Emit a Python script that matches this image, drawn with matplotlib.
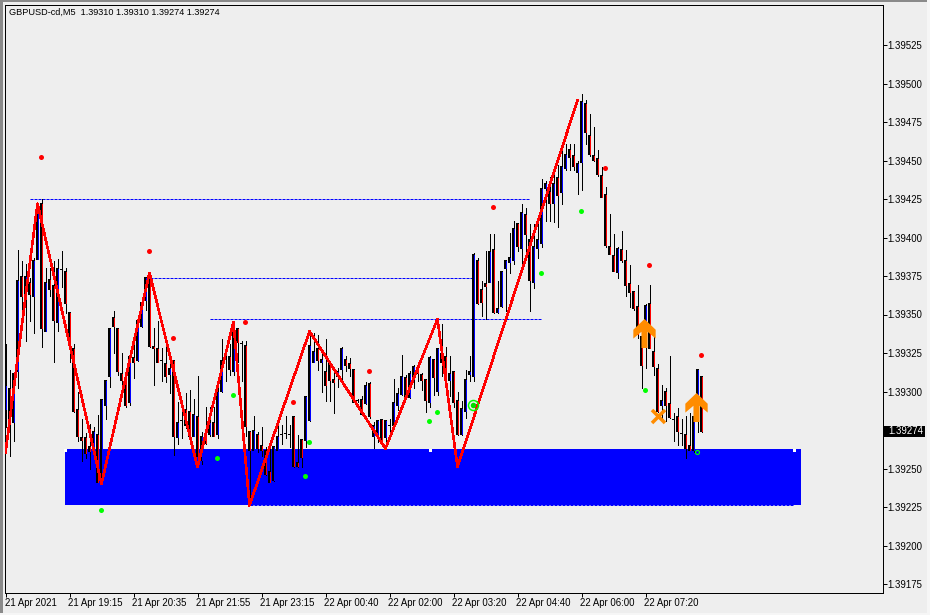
#!/usr/bin/env python
import matplotlib
matplotlib.use("Agg")
import matplotlib.pyplot as plt
from matplotlib.path import Path
from matplotlib.patches import Rectangle
from matplotlib.transforms import ScaledTranslation
import numpy as np

BASE = 1.39  # all values below are points above this price
BG = "#EEEEEE"

opens = [288,302,280,313,375,363,371,362,386,422, 339,373,369,345,379,378,351,328,288,270,
         270,264,262,272,241,291,310,348,341,312, 309,293,322,320,342,359,374,329,328,320,
         318,311,320,270,281,288,287,271,284,255, 272,272,280,272,300,321,323,313,341,331,
         330,274,262,272,265,262,248,242,262,272, 273,272,284,254,269,268,281,319,328,319,
         313,318,308,310,314,321,318,314,294,295, 292,305,271,271,282,270,278,278,291,298,
         309,296,310,315,311,308,293,321,300,325, 323,307,313,294,272,287,311,310,385,366,
         370,371,392,351,355,380,384,385,409,393, 415,399,371,393,396,432,430,422,439,429,
         445,457,453,442,449,487,466,453,451,440, 428,394,388,377,392,385,370,365,355,336,
         335,357,326,315,291,300,292,282,284,273, 272,265,262,283,310]
closes = [304,280,312,372,362,375,363,385,417,341, 371,366,346,380,379,357,330,287,271,268,
          260,261,274,241,295,307,341,342,313,307, 291,323,319,346,358,374,329,328,319,320,
          310,315,271,280,281,278,271,285,258,271, 266,280,271,300,320,321,314,342,332,331,
          277,262,275,263,262,246,241,264,271,272, 273,272,251,251,257,297,330,326,320,321,
          304,307,306,313,328,317,315,293,294,285, 304,284,278,281,267,281,278,293,299,310,
          297,312,316,312,307,294,322,309,328,319, 308,312,293,272,289,308,313,389,357,358,
          368,391,351,354,378,385,387,406,394,416, 402,372,394,399,432,435,422,435,427,446,
          454,452,446,448,488,468,454,450,441,426, 395,389,378,393,385,369,364,354,337,317,
          356,328,316,287,294,291,283,282,274,273, 263,262,284,314,274]
highs = [331,314,312,392,385,383,374,387,422,425, 380,380,385,386,391,380,351,331,300,282,
         273,279,277,285,295,307,341,352,341,325, 313,323,333,346,360,374,376,341,346,328,
         329,325,320,293,290,299,301,295,310,274, 290,290,290,302,334,329,331,342,341,333,
         333,274,284,274,277,264,263,264,278,278, 284,278,284,272,269,297,339,338,337,327,
         334,318,312,315,329,323,322,314,295,297, 306,306,280,281,282,281,282,308,302,324,
         311,313,317,316,312,308,323,321,328,344, 329,323,313,300,294,314,323,390,387,372,
         391,402,402,372,378,385,403,411,409,422, 419,409,409,409,438,437,439,441,447,456,
         461,461,461,450,493,489,480,472,457,446, 433,415,402,394,404,392,382,365,369,338,
         357,369,340,318,304,302,323,286,289,282, 284,286,287,314,310]
lows = [277,258,268,302,352,333,346,338,386,329, 339,362,319,339,368,351,319,287,268,255,
        257,250,258,241,240,282,303,325,311,305, 290,291,309,320,342,353,329,304,319,307,
        306,299,259,266,270,276,267,271,253,253, 266,271,271,270,300,307,311,311,319,307,
        271,229,262,261,258,246,241,242,262,266, 270,264,251,251,251,264,281,319,314,300,
        294,294,286,303,307,313,310,293,293,285, 292,283,263,267,267,263,272,277,288,298,
        295,296,302,307,301,287,290,298,298,310, 307,297,290,272,272,283,307,307,357,349,
        347,371,351,351,355,352,377,383,391,381, 390,352,367,387,394,411,411,410,407,422,
        444,444,444,428,431,461,453,450,440,426, 394,389,378,374,384,362,355,353,335,302,
        315,328,311,287,283,281,283,268,265,265, 257,262,261,274,274]

# zigzag turning points
zz_bars = [0, 8, 24, 36, 48, 57, 61, 76, 95, 108, 113, 143]
zz_pts = [260, 422, 240, 377, 251, 345, 226, 339, 263, 347, 251, 489]

# indicator dots
red_bars = [9, 36, 42, 60, 72, 91, 122, 150, 161, 174]
red_pts = [452, 391, 335, 345, 293, 313, 420, 445, 382, 324]
green_bars = [24, 57, 53, 76, 75, 106, 108, 134, 144, 160]
green_pts = [223, 298, 257, 267, 245, 281, 287, 377, 417, 301]

# dotted levels: start bar, end bar, level
lvl_start = [6, 36, 51, 61]
lvl_end = [131, 117, 134, 197]
lvl_pts = [424.7, 374, 347.4, 226]

# supply box
box_bars = [14.875, 198.875]
box_pts = [226.5, 262.7]

# arrows
arrow_bars = [159.5, 172.5]
arrow_pts = [338, 290]
cross_bar = 163
cross_pt = 284

ytick_pts = [175, 200, 225, 250, 275, 300, 325, 350, 375, 400, 425, 450, 475, 500, 525]
xtick_bars = [0, 16, 32, 48, 64, 80, 96, 112, 128, 144, 160]
xtick_labels = ["21 Apr 2021", "21 Apr 19:15", "21 Apr 20:35", "21 Apr 21:55",
                "21 Apr 23:15", "22 Apr 00:40", "22 Apr 02:00", "22 Apr 03:20",
                "22 Apr 04:40", "22 Apr 06:00", "22 Apr 07:20"]
last_price = 274


def price(p):
    return BASE + np.asarray(p, dtype=float) / 1e5


W, H = 930, 615
px = 72.0 / 100  # one pixel in points
FS = 6.9
one_px_price = 1e-5 / 1.54

plt.rcParams["font.family"] = ["Liberation Sans", "DejaVu Sans"]
fig = plt.figure(figsize=(W / 100, H / 100), dpi=100, facecolor=BG)
ax = fig.add_axes([4.5 / W, 1 - 592.5 / H, 878 / W, 588 / H], facecolor=BG)

# window edge
fig.add_artist(Rectangle((0, 0), 2.5 / W, 1, transform=fig.transFigure, color="#8A8A8A", lw=0))
fig.add_artist(Rectangle((0, 1 - 1.5 / H), 1, 1.5 / H, transform=fig.transFigure, color="#8A8A8A", lw=0))
fig.add_artist(Rectangle((1 - 3 / W, 0), 3 / W, 1, transform=fig.transFigure, color="#F6F6F6", lw=0))
fig.add_artist(Rectangle((0, 0), 1, 2 / H, transform=fig.transFigure, color="#F6F6F6", lw=0))

# 1 px = 0.25 bar, 1.54 px = 1 point
ax.set_xlim((4.5 - 5.5) / 4, (882.5 - 5.5) / 4)
ax.set_ylim(price(300 + (391.5 - 592.5) / 1.54), price(300 + (391.5 - 4.5) / 1.54))

ax.add_patch(Rectangle((box_bars[0], price(box_pts[0])), box_bars[1] - box_bars[0],
                       price(box_pts[1]) - price(box_pts[0]), color="#0000FF", lw=0, zorder=1))
ax.plot([14.9, 106.1, 197.1], price([262, 262, 262]), ls="", marker="s", ms=3 * px, mfc="white",
        mew=0, zorder=1.5)

for s, e, v in zip(lvl_start, lvl_end, lvl_pts):
    ax.plot([s, e], price([v, v]), color="#0000FF", lw=px, ls=(0, (3, 1)), zorder=2)

bars = np.arange(len(opens))
o = price(opens)
c = price(closes)
top = np.maximum(o, c)
bot = np.minimum(o, c)
ax.vlines(bars, price(lows), price(highs), color="black", lw=px, antialiased=False, zorder=3)
# body: black 3 px block with a 1 px coloured core
ax.bar(bars, top - bot + one_px_price, bottom=bot - one_px_price / 2, width=0.75, color="black",
       lw=0, antialiased=False, zorder=3.5)
colors = ["#0000FF" if b > a else "#FF0000" for a, b in zip(opens, closes)]
has_core = top - bot > one_px_price
ax.vlines(bars[has_core], bot[has_core] + one_px_price / 2, top[has_core] - one_px_price / 2,
          colors=[k for k, f in zip(colors, has_core) if f], lw=px, antialiased=False, zorder=3.6)

ax.plot(zz_bars, price(zz_pts), color="#FF0000", lw=1.6 * px, antialiased=False, zorder=4)

ax.plot(np.array(red_bars) - 0.25, price(red_pts), ls="", marker="o", ms=5 * px, mfc="#FF0000", mew=0, zorder=5)
ax.plot(np.array(green_bars) - 0.25, price(green_pts), ls="", marker="o", ms=5 * px, mfc="#00FF00", mew=0, zorder=5)
# ringed signals
ax.plot([172.75], price([261]), ls="", marker="o", ms=4 * px, mfc="#0000FF", mec="#00FF00", mew=1.2 * px, zorder=5)
ax.plot([116.75], price([291]), ls="", marker="o", ms=10 * px, mfc="none", mec="#00FF00", mew=1.5 * px, zorder=5)
ax.plot([116.75], price([291]), ls="", marker="o", ms=5.5 * px, mfc="#00DD00", mew=0, zorder=5)

arrow = Path([(-0.21, -1), (0.21, -1), (0.21, 0.12), (0.77, -0.35), (0.77, 0.26), (0, 1),
              (-0.77, 0.26), (-0.77, -0.35), (-0.21, 0.12), (-0.21, -1)])
ax.plot(arrow_bars, price(arrow_pts), ls="", marker=arrow, ms=29 * px, mfc="#FF8C00", mew=0, zorder=6)
ax.plot([cross_bar], price([cross_pt]), ls="", marker="x", ms=13 * px, mec="#FF8C00", mew=3.5 * px, zorder=6)

ax.yaxis.tick_right()
ax.set_yticks(price(ytick_pts))
ax.set_yticklabels(["%.5f" % price(p) for p in ytick_pts])
ax.set_xticks(xtick_bars)
ax.set_xticklabels(xtick_labels, ha="left")
ax.tick_params(axis="y", length=3, width=px, pad=0.4, labelsize=FS, color="black")
ax.tick_params(axis="x", length=3, width=px, pad=1.0, labelsize=FS, color="black")
shift = ScaledTranslation(-1 / 100, 0, fig.dpi_scale_trans)
for lab in ax.get_xticklabels():
    lab.set_transform(lab.get_transform() + shift)
for spine in ax.spines.values():
    spine.set_linewidth(px)
    spine.set_color("black")

fig.text(9 / W, 1 - 12.5 / H, "GBPUSD-cd,M5  1.39310 1.39310 1.39274 1.39274", fontsize=6.6,
         va="center", ha="left", color="black")

# current price tag
fig.add_artist(Rectangle((884 / W, 1 - 436.7 / H), 41 / W, 10.7 / H, transform=fig.transFigure,
                         color="black", lw=0))
fig.text(888.3 / W, 1 - 431.5 / H, "%.5f" % price(last_price), fontsize=FS, color="white",
         va="center", ha="left")

fig.savefig("out.png", dpi=100, facecolor=BG)
